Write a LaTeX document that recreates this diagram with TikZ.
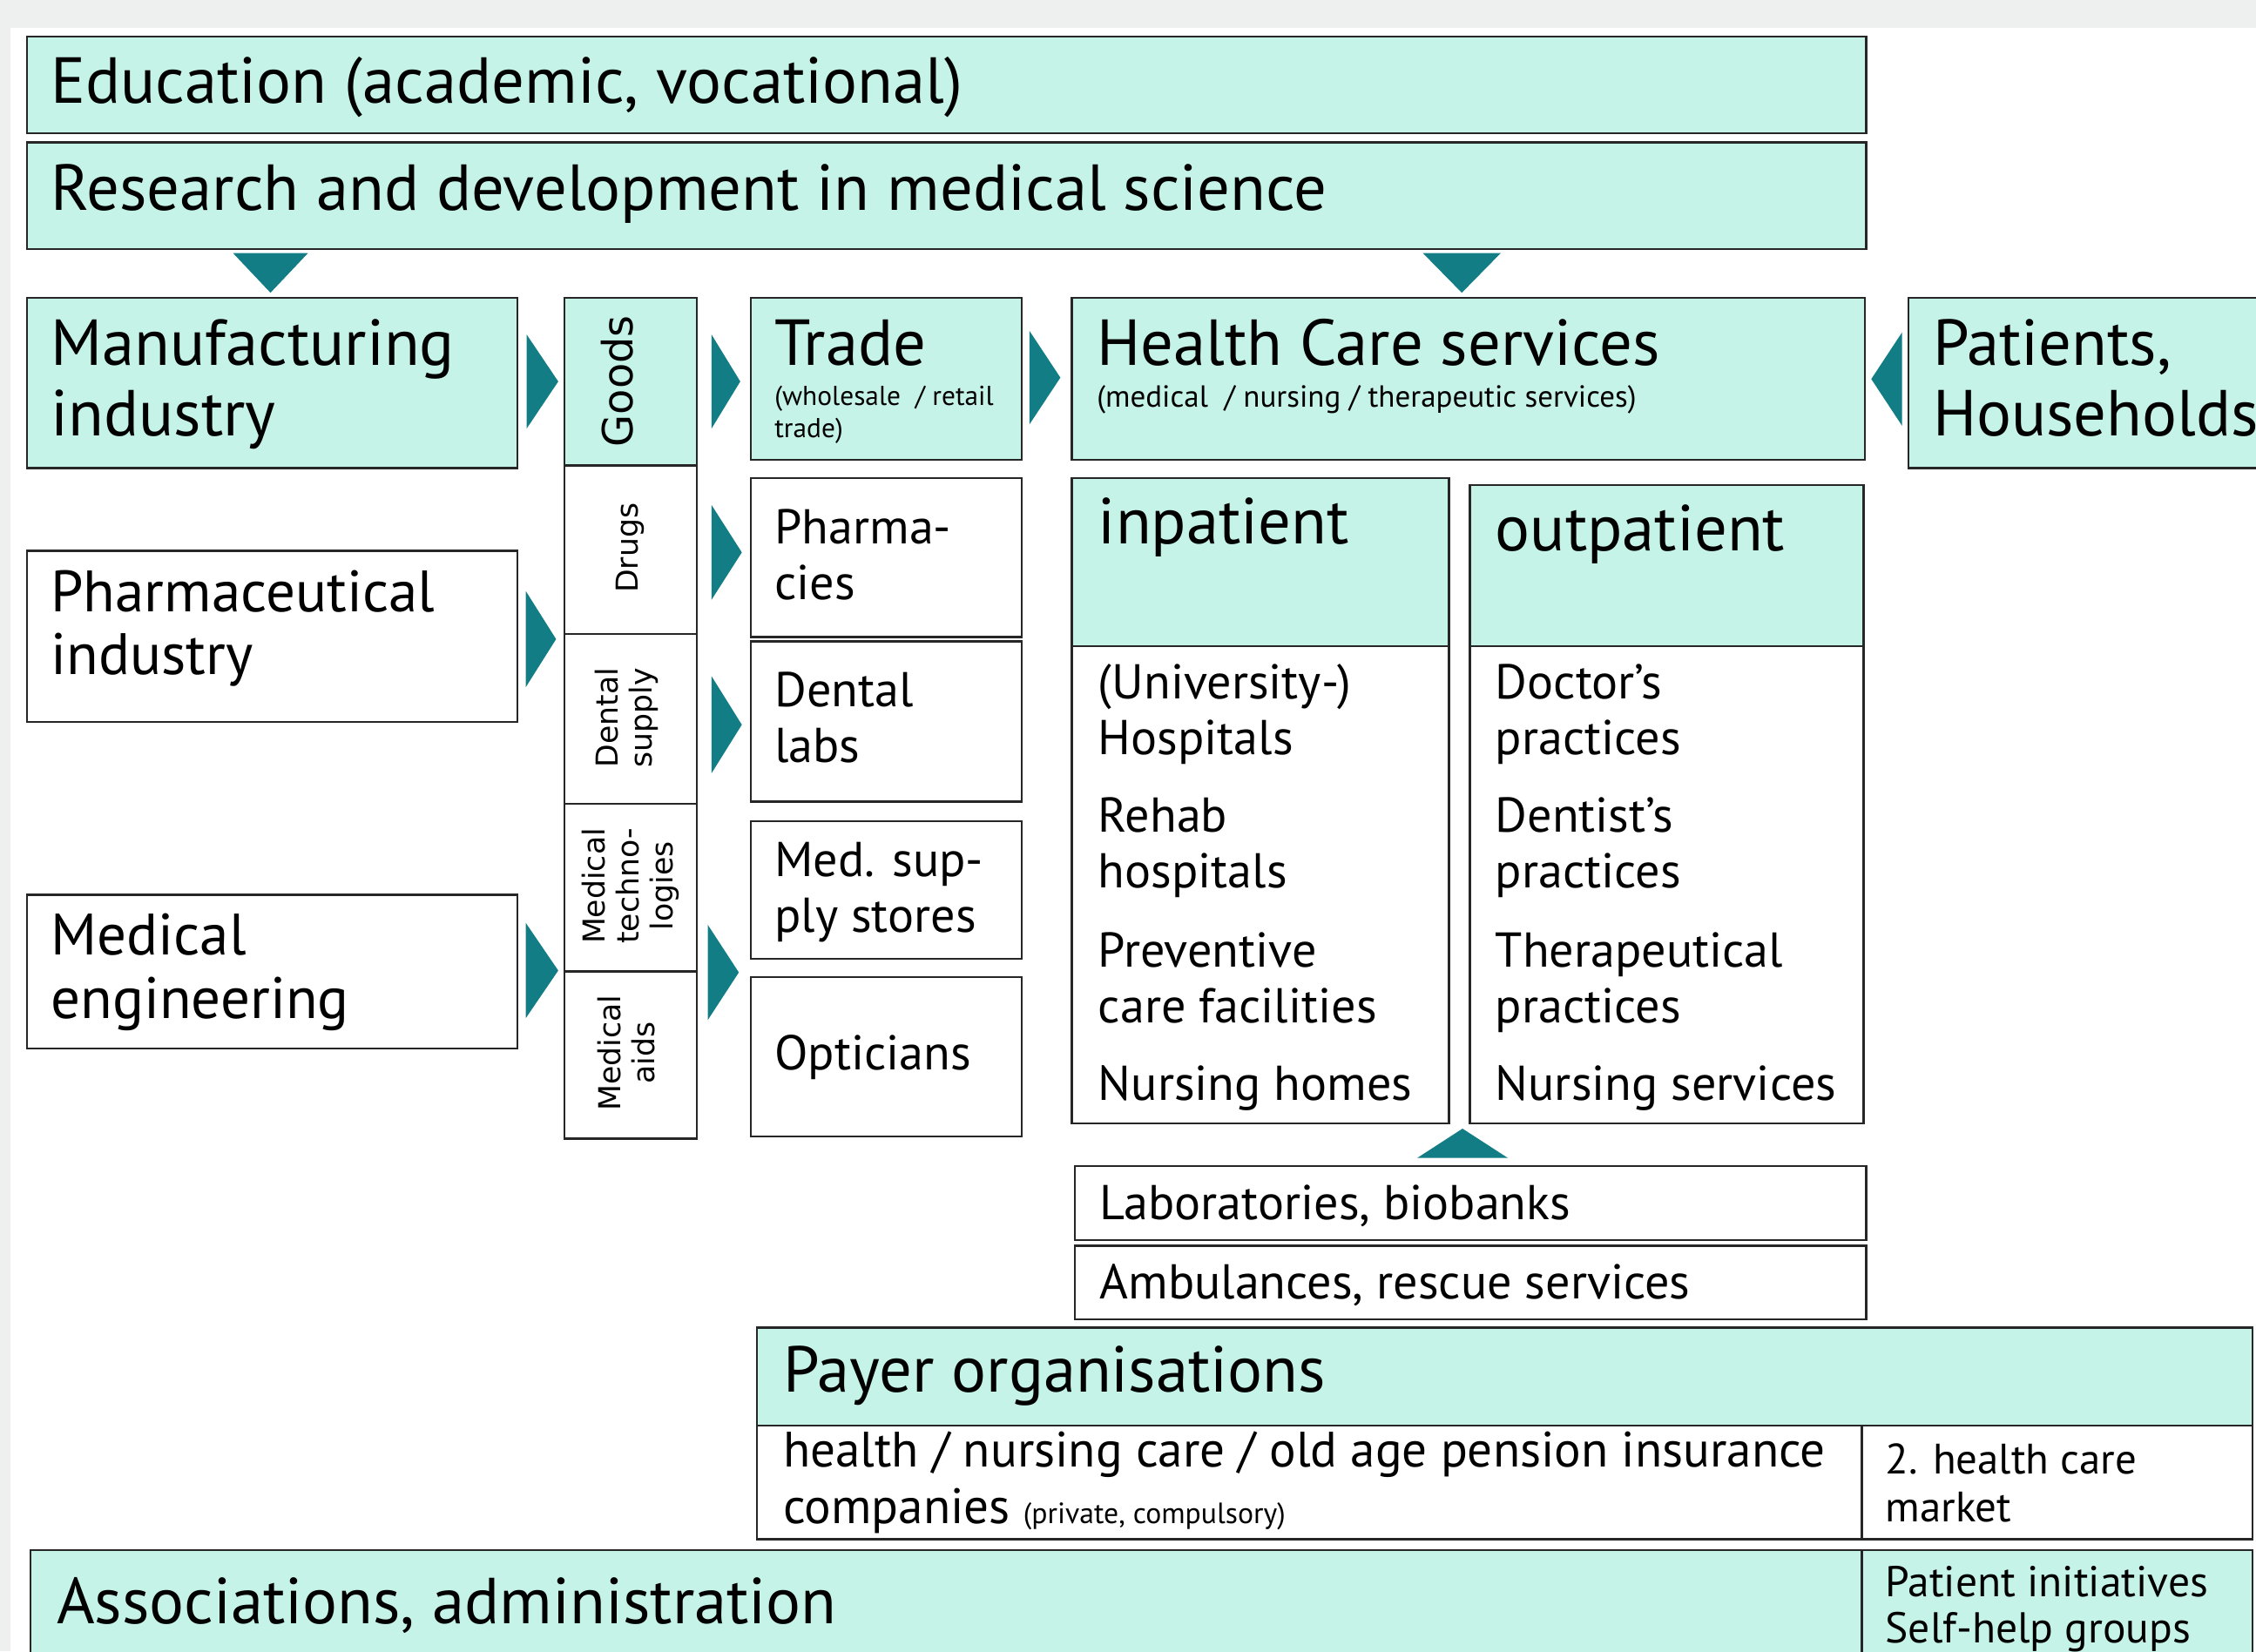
\documentclass[tikz,border=0pt]{standalone}
\usepackage{fontspec}
\setmainfont{PT Sans}
\newfontfamily\rotfont{DejaVu Sans}
\usetikzlibrary{fit}
\definecolor{mint}{RGB}{197,243,232}
\definecolor{tealx}{RGB}{19,125,134}
\definecolor{bggray}{RGB}{238,240,239}
\begin{document}
\begin{tikzpicture}[x=0.5pt,y=-0.5pt,
  box/.style={draw=black!85, line width=0.7pt, inner sep=0pt},
  mintbox/.style={box, fill=mint},
  whitebox/.style={box, fill=white},
  lbl/.style={inner sep=0pt, anchor=base west, align=left},
  big/.style={font=\fontsize{22.6}{24.5}\selectfont},
  medL/.style={font=\fontsize{20.3}{22}\selectfont},
  med/.style={font=\fontsize{17}{19.3}\selectfont},
  small/.style={font=\fontsize{9.5}{11}\selectfont},
  mid/.style={font=\fontsize{14.8}{16.8}\selectfont},
  rot/.style={rotate=90, align=center, inner sep=0pt, font=\rotfont\fontsize{10.5}{11.8}\selectfont},
  tri/.style={fill=tealx, draw=none}]
\useasboundingbox (0,0) rectangle (1568,1148);
\fill[bggray] (0,0) rectangle (1568,1148);
\fill[white] (7.5,19.5) rectangle (1568,1148);

% top bars
\node[mintbox, fit={(18.6,25.5)(1297,92.5)}] (edu) {};
\node[mintbox, fit={(18.6,99)(1297,173)}] (rd) {};
\node[lbl, big] (edut) at (35,72) {Education (academic, vocational)};
\node[lbl, big] (rdt) at (35,146) {Research and development in medical science};

% row 1
\node[mintbox, fit={(18.6,207)(359.5,325.4)}] (manu) {};
\node[mintbox, fit={(392.5,207)(484.5,323.6)}] (goods) {};
\node[mintbox, fit={(522,207)(710.3,319.6)}] (trade) {};
\node[mintbox, fit={(745,207)(1296,319.6)}] (hcs) {};
\node[mintbox, fit={(1326.4,207)(1600,325.4)}] (pat) {};
\node[lbl, big] (manut) at (35,303) {Manufacturing\\industry};
\node[rot, font=\rotfont\fontsize{14.5}{16}\selectfont] (goodst) at (429,265) {Goods};
\node[lbl, big] (tradet) at (538,254) {Trade};
\node[lbl, small] (tradest) at (538,304) {(wholesale~ / retail\\trade)};
\node[lbl, big] (hcst) at (762,254) {Health Care services};
\node[lbl, small, font=\fontsize{10.6}{12}\selectfont] (hcsst) at (762,283) {(medical~ / nursing / therapeutic services)};
\node[lbl, big] (patt) at (1343,303) {Patients,\\Households};

% left industries
\node[whitebox, fit={(18.6,383)(359.5,502)}] (pharmind) {};
\node[whitebox, fit={(18.6,622)(359.5,729)}] (medeng) {};
\node[lbl, medL] (pharmindt) at (35,469) {Pharmaceutical\\industry};
\node[lbl, medL] (medengt) at (35,708) {Medical\\engineering};

% goods column
\node[whitebox, fit={(392.5,323.6)(484.5,440.7)}] (drugs) {};
\node[whitebox, fit={(392.5,440.7)(484.5,558.8)}] (dental) {};
\node[whitebox, fit={(392.5,558.8)(484.5,675.3)}] (medtech) {};
\node[whitebox, fit={(392.5,675.3)(484.5,791.5)}] (medaids) {};
\node[rot] (drugst) at (438,381) {Drugs};
\node[rot] (dentalt) at (435.5,499) {Dental\\supply};
\node[rot] (medtecht) at (438,616) {Medical\\techno-\\logies};
\node[rot] (medaidst) at (435.5,732) {Medical\\aids};

% trade column
\node[whitebox, fit={(522,332.3)(710.3,442.8)}] (pharmacies) {};
\node[whitebox, fit={(522,445.8)(710.3,557.3)}] (dentallabs) {};
\node[whitebox, fit={(522,570.8)(710.3,666.5)}] (medsupply) {};
\node[whitebox, fit={(522,679.3)(710.3,790)}] (opticians) {};
\node[lbl, med] (pharmaciest) at (538,416.6) {Pharma-\\cies};
\node[lbl, med] (dentallabst) at (538,530) {Dental\\labs};
\node[lbl, med] (medsupplyt) at (538,648) {Med. sup-\\ply stores};
\node[lbl, med] (opticianst) at (538,744) {Opticians};

% inpatient / outpatient
\node[mintbox, fit={(745,332.5)(1007,449)}] (inhead) {};
\node[whitebox, fit={(745,449)(1007,781)}] (inbody) {};
\node[mintbox, fit={(1021.6,337)(1295.3,449)}] (outhead) {};
\node[whitebox, fit={(1021.6,449)(1295.3,781)}] (outbody) {};
\node[lbl, big] (inheadt) at (763,378) {inpatient};
\node[lbl, big] (outheadt) at (1039,383) {outpatient};
\node[lbl, med] (in1) at (763,524.5) {(University-)\\Hospitals};
\node[lbl, med] (in2) at (763,617) {Rehab\\hospitals};
\node[lbl, med] (in3) at (763,711) {Preventive\\care facilities};
\node[lbl, med] (in4) at (763,765) {Nursing homes};
\node[lbl, med] (out1) at (1039,524.5) {Doctor’s\\practices};
\node[lbl, med] (out2) at (1039,617) {Dentist’s\\practices};
\node[lbl, med] (out3) at (1039,711) {Therapeutical\\practices};
\node[lbl, med] (out4) at (1039,765) {Nursing services};

% labs / ambulances
\node[whitebox, fit={(747,810.5)(1297,862)}] (labs) {};
\node[whitebox, fit={(747,866)(1297,917)}] (amb) {};
\node[lbl, med] (labst) at (764,848) {Laboratories, biobanks};
\node[lbl, med] (ambt) at (764,903) {Ambulances, rescue services};

% payer
\node[mintbox, fit={(526,923)(1565.5,991)}] (payer) {};
\node[whitebox, fit={(526,991)(1294,1070)}] (payerbody) {};
\node[whitebox, fit={(1294,991)(1565.5,1070)}] (market) {};
\node[lbl, big] (payert) at (544,968) {Payer organisations};
\node[lbl, font=\fontsize{17.3}{19.5}\selectfont] (payerbodyt) at (544,1059) {health / nursing care / old age pension insurance\\companies {\fontsize{10.2}{11}\selectfont (private, compulsory)}};
\node[lbl, mid] (markett) at (1310,1058) {2. health care\\market};

% associations
\node[mintbox, fit={(21,1077.5)(1294,1170)}] (assoc) {};
\node[mintbox, fit={(1294,1077.5)(1565.5,1170)}] (selfhelp) {};
\node[lbl, big] (assoct) at (39,1129) {Associations, administration};
\node[lbl, font=\fontsize{15}{16}\selectfont] (selfhelpt) at (1310,1142) {Patient initiatives\\Self-help groups};

% triangles
\fill[tri] (162,176) -- (214,176) -- (188,203.5) -- cycle;
\fill[tri] (989,176) -- (1043,176) -- (1016,203.5) -- cycle;
\fill[tri] (366,232.5) -- (366,298) -- (388,265.2) -- cycle;
\fill[tri] (494.5,232.5) -- (494.5,298) -- (514.5,265.2) -- cycle;
\fill[tri] (715.5,230) -- (715.5,295) -- (737,262.5) -- cycle;
\fill[tri] (1322,231) -- (1322,296) -- (1300.6,263.5) -- cycle;
\fill[tri] (365.5,411) -- (365.5,477.6) -- (386.5,444.3) -- cycle;
\fill[tri] (494.5,351) -- (494.5,417) -- (515.6,384) -- cycle;
\fill[tri] (494.5,470) -- (494.5,537.6) -- (515.6,503.8) -- cycle;
\fill[tri] (365.5,641.7) -- (365.5,707.7) -- (388,674.7) -- cycle;
\fill[tri] (492,643) -- (492,709) -- (513.5,676) -- cycle;
\fill[tri] (985,805) -- (1048,805) -- (1016.5,784.6) -- cycle;
\end{tikzpicture}
\end{document}
